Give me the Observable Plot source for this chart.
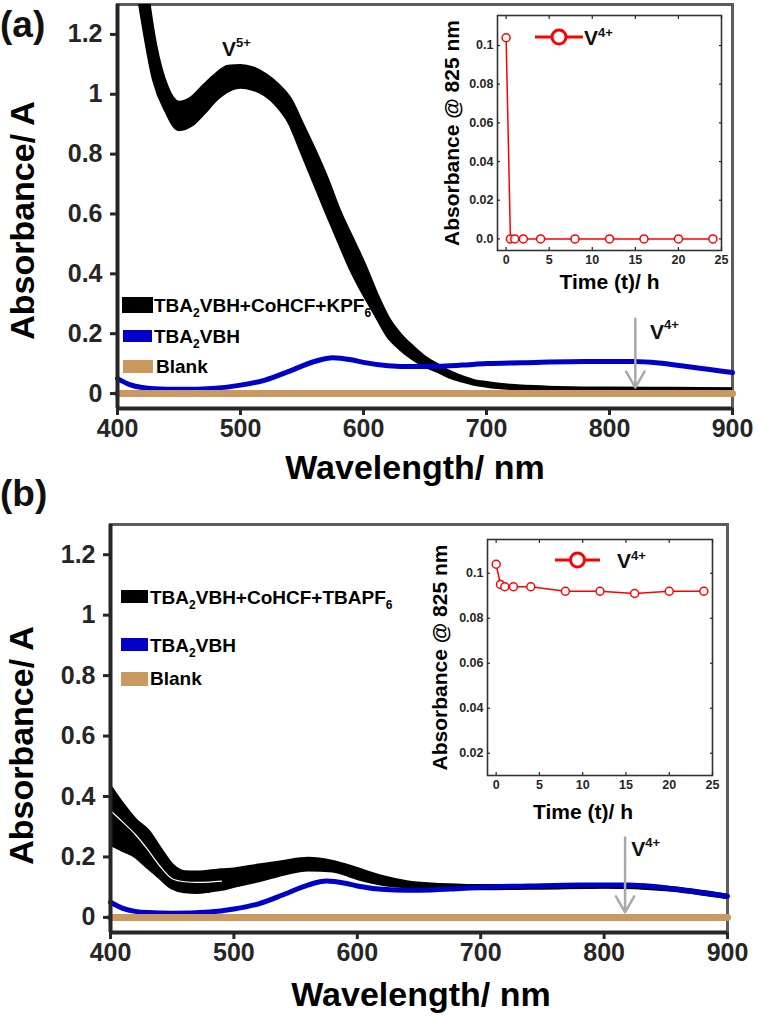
<!DOCTYPE html>
<html><head><meta charset="utf-8">
<script src="https://cdn.jsdelivr.net/npm/d3@7"></script>
<script src="https://cdn.jsdelivr.net/npm/@observablehq/plot@0.6"></script>
<style>
body{margin:0;background:#fff;font-family:"Liberation Sans",Arial,Helvetica,sans-serif;}
#wrap{position:relative;width:759px;height:1017px;overflow:hidden;background:#fff;}
.leg{position:absolute;font-weight:bold;font-size:19px;color:#000;line-height:1;white-space:nowrap;transform:translateY(-50%);}
.leg sub{font-size:12px;vertical-align:-5px;line-height:0;}
.sw{position:absolute;}
.plabel{position:absolute;font-weight:bold;font-size:37px;color:#111;line-height:1;}
</style></head><body><div id="wrap"></div>
<script>
// ---------------- data ----------------
const xTicks = [400, 500, 600, 700, 800, 900];
const yTicks = [0, 0.2, 0.4, 0.6, 0.8, 1, 1.2];

// panel (a): TBA2VBH+CoHCF+KPF6 band (upper / lower curve of the bundle)
const wlBlackA = [400,410,420,430,440,450,460,470,480,490,500,510,520,530,540,550,560,570,580,590,600,610,620,630,640,650,660,670,680,690,700,720,750,800,850,900];
const hiBlackA = [2.2,1.8,1.45,1.17,1.02,0.97,0.985,1.025,1.063,1.09,1.093,1.085,1.063,1.03,0.982,0.897,0.81,0.715,0.608,0.52,0.432,0.333,0.248,0.193,0.153,0.118,0.093,0.07,0.053,0.04,0.034,0.024,0.018,0.015,0.014,0.013];
const loBlackA = [1.9,1.55,1.27,1.05,0.945,0.885,0.9,0.94,0.985,1.015,1.027,1.02,1.001,0.965,0.908,0.81,0.71,0.61,0.513,0.418,0.338,0.267,0.195,0.152,0.12,0.095,0.078,0.058,0.045,0.034,0.028,0.02,0.015,0.013,0.012,0.011];

// TBA2VBH (same in both panels)
const wlBlue = [400,410,420,430,450,480,500,520,540,560,575,590,600,620,640,660,680,700,740,780,820,840,860,880,900];
const vBlue  = [0.05,0.03,0.02,0.016,0.014,0.018,0.028,0.045,0.075,0.107,0.12,0.113,0.104,0.093,0.09,0.091,0.095,0.1,0.104,0.107,0.107,0.102,0.092,0.081,0.07];

// Blank
const wlBlank = [400, 900];
const vBlank  = [0, 0];

// panel (b): TBA2VBH+CoHCF+TBAPF6 band
const wlBlackB = [400,410,420,430,440,450,460,470,480,490,500,520,540,560,580,600,620,640,660,680,700,750,800,850,900];
const hiBlackB = [0.428,0.37,0.32,0.285,0.225,0.17,0.148,0.147,0.15,0.154,0.157,0.17,0.182,0.192,0.182,0.158,0.132,0.115,0.107,0.104,0.102,0.102,0.105,0.097,0.07];
const loBlackB = [0.245,0.225,0.205,0.17,0.135,0.1,0.088,0.086,0.09,0.096,0.106,0.124,0.146,0.16,0.157,0.132,0.113,0.104,0.1,0.098,0.098,0.1,0.103,0.095,0.068];
// thin gap between the two groups of curves in (b)
const wlGapB = [400,410,420,430,440,450,460,470,480,490];
const vGapB  = [0.353,0.315,0.275,0.225,0.17,0.128,0.118,0.116,0.117,0.12];

// annotations
const arrowA = [{x: 821, y1: 0.25, y2: 0.02}];
const notesA = [{x: 485, y: 1.15, t: "V", s: "5+"}, {x: 833, y: 0.205, t: "V", s: "4+"}];
const arrowB = [{x: 817, y1: 0.264, y2: 0.017}];
const notesB = [{x: 822, y: 0.225, t: "V", s: "4+"}];

// insets: absorbance @ 825 nm vs time
const tHours = [0, 0.5, 1, 2, 4, 8, 12, 16, 20, 24];
const v825A = [0.104, 0, 0, 0, 0, 0, 0, 0, 0, 0];
const v825B = [0.104, 0.095, 0.094, 0.094, 0.094, 0.092, 0.092, 0.091, 0.092, 0.092];
const insetXTicks = [0, 5, 10, 15, 20, 25];
const insetYTicksA = [0, 0.02, 0.04, 0.06, 0.08, 0.1];
const insetYTicksB = [0.02, 0.04, 0.06, 0.08, 0.1];

// legends
const legendNamesA = ["TBA<sub>2</sub>VBH+CoHCF+KPF<sub>6</sub>", "TBA<sub>2</sub>VBH", "Blank"];
const legendNamesB = ["TBA<sub>2</sub>VBH+CoHCF+TBAPF<sub>6</sub>", "TBA<sub>2</sub>VBH", "Blank"];
const seriesColors = ["#000000", "#0000c8", "#c9995f"];

// ---------------- build ----------------
const FONT = '"Liberation Sans", Arial, Helvetica, sans-serif';
const DARK = "#262626";
const band = (wl, hi, lo) => wl.map((w, i) => ({wl: w, hi: hi[i], lo: lo[i]}));
const series = (xs, ys) => xs.map((x, i) => ({x, y: ys[i]}));
const wrap = document.getElementById("wrap");

function mainPanel(c) {
  const black = band(c.wl, c.hi, c.lo);
  const marks = [
    Plot.frame({stroke: "#5c5c5c", strokeWidth: 3}),
    Plot.areaY(black, {x: "wl", y1: "lo", y2: "hi", fill: seriesColors[0], curve: "monotone-x", clip: true}),
    Plot.line(black, {x: "wl", y: "hi", stroke: seriesColors[0], strokeWidth: 5, curve: "monotone-x", clip: true}),
    Plot.line(black, {x: "wl", y: "lo", stroke: seriesColors[0], strokeWidth: 5, curve: "monotone-x", clip: true})
  ];
  if (c.gap) marks.push(Plot.line(series(c.gap[0], c.gap[1]), {x: "x", y: "y", stroke: "white", strokeWidth: 1.2, curve: "monotone-x"}));
  marks.push(
    Plot.line(series(wlBlue, vBlue), {x: "x", y: "y", stroke: seriesColors[1], strokeWidth: 5, curve: "monotone-x"}),
    Plot.line(series(wlBlank, vBlank), {x: "x", y: "y", stroke: seriesColors[2], strokeWidth: 7}),
    Plot.arrow(c.arrow, {x1: "x", x2: "x", y1: "y1", y2: "y2", stroke: "#a9a9a9", strokeWidth: 2.5, headLength: 11}),
    Plot.text(c.notes, {x: "x", y: "y", text: "t", textAnchor: "start", fontSize: 21, fontWeight: "bold", fill: "#111"}),
    Plot.text(c.notes, {x: "x", y: "y", text: "s", textAnchor: "start", dx: 14, dy: -7, fontSize: 13, fontWeight: "bold", fill: "#111"}),
    Plot.axisX({ticks: xTicks, tickSize: 7, tickPadding: 4, fontSize: 25, fontWeight: "bold", color: DARK, strokeWidth: 3, label: null}),
    Plot.axisY({ticks: yTicks, tickSize: 7, tickPadding: 8, tickFormat: d => String(d), fontSize: 25, fontWeight: "bold", color: DARK, strokeWidth: 3, label: null}),
    Plot.ruleX([400], {stroke: DARK, strokeWidth: 4}),
    Plot.ruleY([-0.05], {stroke: DARK, strokeWidth: 4}),
    Plot.text(["Wavelength/ nm"], {frameAnchor: "bottom", text: d => d, textAnchor: "middle", lineAnchor: "middle", dx: c.xtDx, dy: c.xtDy, fontSize: 34, fontWeight: "bold", fill: "#000"}),
    Plot.text(["Absorbance/ A"], {frameAnchor: "left", text: d => d, textAnchor: "middle", lineAnchor: "middle", rotate: -90, dx: c.ytDx, dy: c.ytDy, fontSize: 34, fontWeight: "bold", fill: "#000"})
  );
  const svg = Plot.plot({
    width: 759, height: c.height,
    marginLeft: c.ml, marginRight: c.mr, marginTop: c.mt, marginBottom: c.mb,
    x: {domain: [400, 900]},
    y: {domain: [-0.05, 1.3]},
    style: {fontFamily: FONT, background: "none", overflow: "visible"},
    marks
  });
  svg.style.position = "absolute"; svg.style.left = "0px"; svg.style.top = c.top + "px";
  wrap.appendChild(svg);
}

function insetPanel(c) {
  const data = tHours.map((t, i) => ({t, v: c.values[i]}));
  const svg = Plot.plot({
    width: c.w, height: c.h,
    marginLeft: c.ml, marginRight: c.mr, marginTop: c.mt, marginBottom: c.mb,
    x: {domain: [-1, 25]},
    y: {domain: c.ydom},
    style: {fontFamily: FONT, background: "none", overflow: "visible"},
    marks: [
      Plot.frame({stroke: "#333", strokeWidth: 1.6}),
      Plot.axisX({ticks: insetXTicks, tickSize: -3, tickPadding: 8, fontSize: 12.5, fontWeight: "bold", color: DARK, strokeWidth: 1.2, label: null}),
      Plot.axisX({anchor: "top", ticks: insetXTicks, tickSize: -3, tickFormat: () => "", color: DARK, strokeWidth: 1.2, label: null}),
      Plot.axisY({ticks: c.yticks, tickSize: -3, tickPadding: 7, tickFormat: d => d === 0 ? "0.0" : String(d), fontSize: 12.5, fontWeight: "bold", color: DARK, strokeWidth: 1.2, label: null}),
      Plot.axisY({anchor: "right", ticks: c.yticks, tickSize: -3, tickFormat: () => "", color: DARK, strokeWidth: 1.2, label: null}),
      Plot.line(data, {x: "t", y: "v", stroke: "#ff0000", strokeWidth: 1.5}),
      Plot.dot(data, {x: "t", y: "v", r: 4, stroke: "#ff0000", fill: "white", strokeWidth: 1.5}),
      Plot.text(["Time (t)/ h"], {frameAnchor: "bottom", text: d => d, textAnchor: "middle", lineAnchor: "middle", dx: c.xtDx, dy: c.xtDy, fontSize: 21, fontWeight: "bold", fill: "#000"}),
      Plot.text(["Absorbance @ 825 nm"], {frameAnchor: "left", text: d => d, textAnchor: "middle", lineAnchor: "middle", rotate: -90, dx: c.ytDx, fontSize: 21, fontWeight: "bold", fill: "#000"})
    ]
  });
  svg.style.position = "absolute"; svg.style.left = c.left + "px"; svg.style.top = c.top + "px";
  wrap.appendChild(svg);
  // inset legend
  const ns = "http://www.w3.org/2000/svg";
  const lg = document.createElementNS(ns, "svg");
  lg.setAttribute("width", 759); lg.setAttribute("height", 1017);
  lg.style.position = "absolute"; lg.style.left = "0px"; lg.style.top = "0px"; lg.style.pointerEvents = "none";
  const L = c.leg;
  lg.innerHTML = `<line x1="${L.x1}" x2="${L.x2}" y1="${L.y}" y2="${L.y}" stroke="#ff0000" stroke-width="3"/>
    <circle cx="${(L.x1 + L.x2) / 2}" cy="${L.y}" r="7" stroke="#ff0000" stroke-width="3" fill="white"/>
    <text x="${L.tx}" y="${L.y}" dy="0.36em" font-family='${FONT}' font-weight="bold" font-size="21" fill="#111">V<tspan font-size="13" dy="-0.55em">4+</tspan></text>`;
  wrap.appendChild(lg);
}

function legend(names, items) {
  names.forEach((n, i) => {
    const it = items[i];
    const s = document.createElement("div");
    s.className = "sw";
    s.style.cssText = `left:${it.sx}px;top:${it.sy}px;width:${it.sw}px;height:${it.sh}px;background:${seriesColors[i]}`;
    wrap.appendChild(s);
    const t = document.createElement("div");
    t.className = "leg";
    t.style.left = it.tx + "px"; t.style.top = it.ty + "px";
    t.innerHTML = n;
    wrap.appendChild(t);
  });
}

mainPanel({top: 0, height: 480, ml: 117, mr: 27, mt: 4, mb: 72,
  wl: wlBlackA, hi: hiBlackA, lo: loBlackA, arrow: arrowA, notes: notesA,
  xtDx: -10, xtDy: 60, ytDx: -94, ytDy: 14});
mainPanel({top: 480, height: 537, ml: 110, mr: 32, mt: 44, mb: 85,
  wl: wlBlackB, hi: hiBlackB, lo: loBlackB, gap: [wlGapB, vGapB], arrow: arrowB, notes: notesB,
  xtDx: 2, xtDy: 63, ytDx: -88, ytDy: 17});

insetPanel({left: 420, top: 0, w: 310, h: 300, ml: 77, mr: 9, mt: 15, mb: 50,
  ydom: [-0.006, 0.1155], yticks: insetYTicksA, values: v825A, xtDx: 0, xtDy: 32, ytDx: -45,
  leg: {x1: 535, x2: 583, y: 37, tx: 584}});
insetPanel({left: 400, top: 520, w: 320, h: 300, ml: 87, mr: 8, mt: 19, mb: 45,
  ydom: [0.0101, 0.115], yticks: insetYTicksB, values: v825B, xtDx: -17, xtDy: 37, ytDx: -47,
  leg: {x1: 555, x2: 600, y: 560, tx: 617}});

legend(legendNamesA, [
  {sx: 122, sy: 297, sw: 31, sh: 16, tx: 154, ty: 305},
  {sx: 123, sy: 330, sw: 29, sh: 12, tx: 154, ty: 336},
  {sx: 123, sy: 360, sw: 30, sh: 13, tx: 156, ty: 366}
]);
legend(legendNamesB, [
  {sx: 121, sy: 590, sw: 27, sh: 13, tx: 150, ty: 597},
  {sx: 121, sy: 638, sw: 27, sh: 13, tx: 150, ty: 645},
  {sx: 121, sy: 672, sw: 27, sh: 14, tx: 150, ty: 678}
]);

const pa = document.createElement("div"); pa.className = "plabel"; pa.style.left = "0px"; pa.style.top = "6px"; pa.textContent = "(a)"; wrap.appendChild(pa);
const pb = document.createElement("div"); pb.className = "plabel"; pb.style.left = "0px"; pb.style.top = "475px"; pb.textContent = "(b)"; wrap.appendChild(pb);
</script></body></html>
